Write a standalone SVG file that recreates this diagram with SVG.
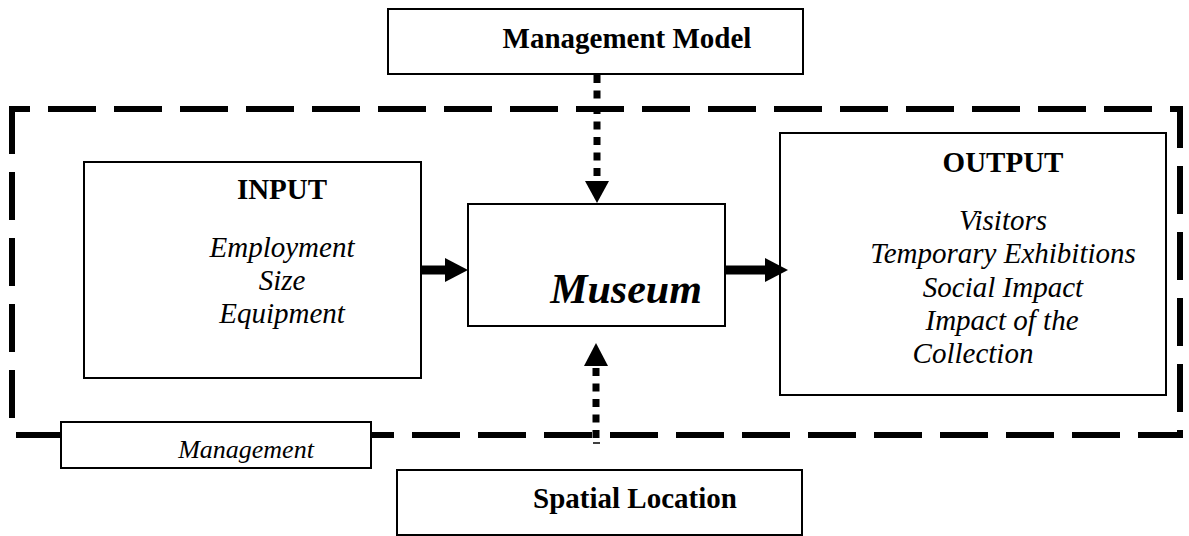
<svg xmlns="http://www.w3.org/2000/svg" width="1189" height="536" viewBox="0 0 1189 536">
<style>
.box{fill:#fff;stroke:#000;stroke-width:2}
.frame{fill:none;stroke:#000;stroke-width:6;stroke-dasharray:48 18}
.dot{fill:none;stroke:#000;stroke-width:7;stroke-dasharray:8 7.5}
.shaft{fill:none;stroke:#000;stroke-width:9}
.b{font-family:"Liberation Serif","Times New Roman",serif;font-weight:bold;font-size:29px;text-anchor:middle;fill:#000}
.i{font-family:"Liberation Serif","Times New Roman",serif;font-style:italic;font-size:29px;text-anchor:middle;fill:#000}
</style>
<rect width="1189" height="536" fill="#fff"/>
<g id="frame">
<line class="frame" x1="10" y1="109" x2="1183" y2="109" stroke-dashoffset="28"/>
<line class="frame" x1="12" y1="106" x2="12" y2="430"/>
<line class="frame" x1="16" y1="435" x2="1183" y2="435"/>
<line class="frame" x1="1180" y1="106" x2="1180" y2="438" stroke-dashoffset="6"/>
</g>
<g id="input">
<rect class="box" x="84" y="162" width="337" height="216"/>
<text class="b" x="282" y="199">INPUT</text>
<text class="i" x="282" y="257">Employment</text>
<text class="i" x="282" y="290">Size</text>
<text class="i" x="282" y="323">Equipment</text>
</g>
<g id="museum">
<rect class="box" x="468" y="204" width="257" height="122"/>
<text class="i" x="626" y="303" style="font-weight:bold;font-size:42px">Museum</text>
</g>
<g id="output">
<rect class="box" x="780" y="133" width="386" height="262"/>
<text class="b" x="1003" y="172">OUTPUT</text>
<text class="i" x="1003" y="230">Visitors</text>
<text class="i" x="1003" y="263">Temporary Exhibitions</text>
<text class="i" x="1003" y="297">Social Impact</text>
<text class="i" x="1002" y="330">Impact of the</text>
<text class="i" x="973" y="363">Collection</text>
</g>
<g id="management-model">
<rect class="box" x="388" y="9" width="415" height="65"/>
<text class="b" x="627" y="48">Management Model</text>
</g>
<g id="spatial-location">
<rect class="box" x="397" y="470" width="405" height="65"/>
<text class="b" x="635" y="508">Spatial Location</text>
</g>
<g id="management">
<rect class="box" x="61" y="422" width="310" height="46"/>
<text class="i" x="246" y="458" style="font-size:26px">Management</text>
</g>
<g id="connectors">
<line class="dot" x1="597" y1="75" x2="597" y2="182"/>
<polygon points="585,181 609,181 597,203" fill="#000"/>
<line class="dot" x1="596" y1="438" x2="596" y2="365"/>
<polygon points="584,366 608,366 596,343" fill="#000"/>
<line x1="593" y1="443" x2="600" y2="443" stroke="#000" stroke-width="1.5"/>
<line class="shaft" x1="421" y1="270" x2="447" y2="270"/>
<polygon points="445,258 468,270 445,282" fill="#000"/>
<line class="shaft" x1="725" y1="270" x2="767" y2="270"/>
<polygon points="765,258 788,270 765,282" fill="#000"/>
</g>
</svg>
